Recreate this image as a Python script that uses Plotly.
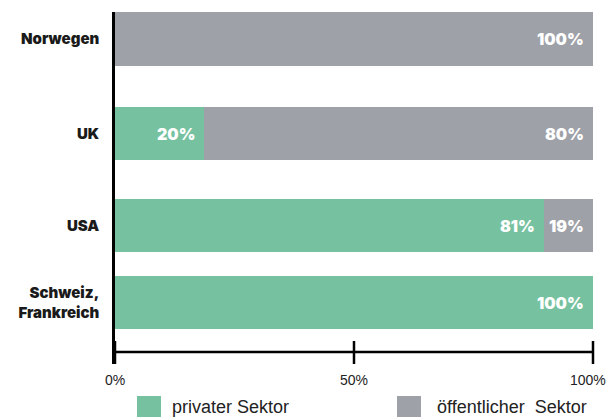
import plotly.graph_objects as go

# ---- data ----
categories = ["Norwegen", "UK", "USA", "Schweiz,<br>Frankreich"]
private_share = [0, 18.6, 89.7, 100]          # bar lengths as drawn
public_share = [100, 81.4, 10.3, 0]
private_labels = ["", "20%", "81%", "100%"]
public_labels = ["100%", "80%", "19%", ""]
x_ticks = [0, 50, 100]
x_tick_labels = ["0%", "50%", "100%"]
legend_names = ["privater Sektor", "öffentlicher\u00a0 Sektor"]

# ---- layout constants ----
W, H = 607, 417
ML, MR, MT, MB = 115, 14, 12, 53
PW, PH = W - ML - MR, H - MT - MB
X_MIN, X_MAX = 0, 100
row_pos = [27, 121.5, 213.5, 290.5]     # centre of each row (pixel units from top of plot)
bar_w = 53.5
GREEN = "#76C2A0"
GREY = "#9EA1A8"
BOLD = "Inter"
REG = "Liberation Sans, Arial"


def px(x):
    return (x - ML) / PW


def py(y):
    return (MT + PH - y) / PH


fig = go.Figure()
fig.add_trace(go.Bar(y=row_pos, x=private_share, orientation="h", width=bar_w,
                     marker=dict(color=GREEN, line=dict(width=0)), name=legend_names[0],
                     showlegend=False, hoverinfo="skip"))
fig.add_trace(go.Bar(y=row_pos, x=public_share, orientation="h", width=bar_w,
                     marker=dict(color=GREY, line=dict(width=0)), name=legend_names[1],
                     showlegend=False, hoverinfo="skip"))

# value labels inside bars (right aligned at the segment end)
for yp, p, q, lp, lq in zip(row_pos, private_share, public_share, private_labels, public_labels):
    if lp:
        fig.add_annotation(x=p, y=yp, xref="x", yref="y", text=lp, showarrow=False,
                           xanchor="right", yanchor="middle", xshift=-7,
                           font=dict(family=BOLD, size=16, color="white", weight=900))
    if lq:
        fig.add_annotation(x=p + q, y=yp, xref="x", yref="y", text=lq, showarrow=False,
                           xanchor="right", yanchor="middle", xshift=-7,
                           font=dict(family=BOLD, size=16, color="white", weight=900))

# horizontal axis line (sits above the plot bottom, ticks cross it)
fig.add_shape(type="line", xref="paper", yref="paper", x0=0, x1=1, y0=py(352), y1=py(352),
              line=dict(color="black", width=2.5))

# tick marks and tick labels
for xv, lab in zip(x_ticks, x_tick_labels):
    xp = (xv - X_MIN) / (X_MAX - X_MIN)
    fig.add_shape(type="line", xref="paper", yref="paper", x0=xp, x1=xp,
                  y0=py(341), y1=py(364), line=dict(color="black", width=2.5))
    last = xv == x_ticks[-1]
    fig.add_annotation(x=xp, y=py(380), xref="paper", yref="paper", text=lab, showarrow=False,
                       xanchor="right" if last else "center", yanchor="middle",
                       xshift=15 if last else 0,
                       font=dict(family=REG, size=14, color="#222"))

# legend drawn manually
leg_sq = [(137, 161), (397, 421)]
leg_txt = [170, 435]
for (a, b), t, name, col in zip(leg_sq, leg_txt, legend_names, [GREEN, GREY]):
    fig.add_shape(type="rect", xref="paper", yref="paper", x0=px(a), x1=px(b),
                  y0=py(396), y1=py(419), line=dict(width=0), fillcolor=col)
    fig.add_annotation(x=px(t), y=py(407), xref="paper", yref="paper", text=name,
                       showarrow=False, xanchor="left", yanchor="middle",
                       font=dict(family=REG, size=18, color="#222"))

fig.update_layout(
    width=W, height=H, margin=dict(l=ML, r=MR, t=MT, b=MB),
    barmode="stack", bargap=0,
    plot_bgcolor="white", paper_bgcolor="white",
    showlegend=False,
    xaxis=dict(range=[X_MIN, X_MAX], showticklabels=False, ticks="",
               showline=False, showgrid=False, zeroline=False, automargin=False,
               fixedrange=True),
    yaxis=dict(range=[PH, 0], tickvals=row_pos, ticktext=categories,
               ticks="", showline=True, linewidth=2.5, linecolor="black",
               showgrid=False, zeroline=False, ticklabelstandoff=10, automargin=False,
               tickfont=dict(family=BOLD, size=15, color="#1a1a1a", weight=900),
               fixedrange=True),
)

fig.write_html("out.html")
